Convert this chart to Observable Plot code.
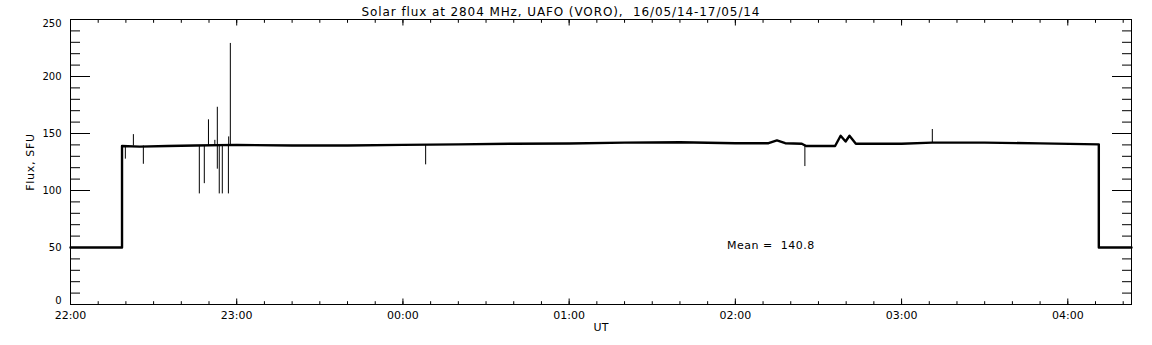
<!DOCTYPE html>
<html><head><meta charset="utf-8">
<script src="https://cdn.jsdelivr.net/npm/d3@7"></script>
<script src="https://cdn.jsdelivr.net/npm/@observablehq/plot@0.6"></script>
<style>html,body{margin:0;padding:0;background:#fff}svg{display:block}</style>
</head><body><div id="chart"></div>
<script>
// Minutes after 22:00 UT (16/05/14) and flux in SFU
const baseMinutes = [0, 18.6, 18.6, 25, 35, 45, 60, 80, 100, 120, 140, 160, 180, 200, 220, 240, 252, 255, 258, 264, 265.5, 276, 278, 279.8, 281.2, 283.5, 300, 311, 330, 350, 371.2, 371.2, 383];
const baseFlux    = [50, 50, 139, 138.5, 139, 139.5, 140, 139.5, 139.5, 140, 140.5, 141, 141.2, 142, 142.3, 141.5, 141.5, 144, 141.5, 141, 139, 139, 148, 143, 148, 141, 141, 142, 142, 141.3, 140.5, 50, 50];

const spikeMinutes = [19.8, 22.7, 26.3, 46.5, 48.3, 49.8, 52.1, 53.0, 53.0, 53.7, 54.8, 57.0, 57.1, 57.7, 128.2, 265.1, 311.1];
const spikeFlux    = [127.5, 149, 123, 97, 106, 162, 144, 173, 118.7, 97, 97, 97, 147, 229, 122.5, 121, 153.5];
const spikeBase    = [139, 139, 139, 139.5, 139.5, 139.5, 139.5, 139.5, 139.5, 139.5, 139.5, 139.5, 139.5, 139.5, 140, 140, 142];

const xMajorMinutes = [0, 60, 120, 180, 240, 300, 360];
const xTickLabels = ["22:00", "23:00", "00:00", "01:00", "02:00", "03:00", "04:00"];
const yMidTicks = [50, 100, 150, 200];
const yMidLabels = ["50", "100", "150", "200"];
const yBottomTick = [0], yBottomLabel = ["0"];
const yTopTick = [250], yTopLabel = ["250"];
const yMajor = [0, 50, 100, 150, 200, 250];
const xDomainMinutes = [0, 383];

const titleText = "Solar flux at 2804 MHz, UAFO (VORO),\u00a0 16/05/14-17/05/14";
const xLabel = "UT";
const yLabel = "Flux, SFU";
const meanText = "Mean =\u00a0 140.8";
const meanPos = {minute: 237, flux: 52};

const t0 = Date.UTC(2014, 4, 16, 22, 0, 0);
const toDate = m => new Date(t0 + m * 60000);

const base = baseMinutes.map((m, i) => ({t: toDate(m), v: baseFlux[i]}));
const spikes = spikeMinutes.map((m, i) => ({t: toDate(m), v: spikeFlux[i], b: spikeBase[i]}));
const xMajor = xMajorMinutes.map(toDate);
const xMinor = d3.range(0, 381, 10).map(toDate);
const yMinor = d3.range(0, 251, 10);

const font = "DejaVu Sans, sans-serif";
const yLabOpts = {anchor: "left", tickSize: 0, tickPadding: 9, fontSize: 10, label: null};

const chart = Plot.plot({
  width: 1152,
  height: 345,
  marginLeft: 70,
  marginRight: 21,
  marginTop: 19,
  marginBottom: 41,
  style: {fontFamily: font, fontSize: "11px", background: "#fff", color: "#000"},
  x: {type: "utc", domain: xDomainMinutes.map(toDate), axis: null},
  y: {domain: [0, 250], axis: null},
  marks: [
    // bottom axis ticks (inward)
    Plot.axisX(xMinor, {anchor: "bottom", tickSize: -2.8, fill: "none"}),
    Plot.axisX(xMajor, {anchor: "bottom", tickSize: -5.5, fill: "none"}),
    Plot.axisX(xMajor, {anchor: "bottom", tickSize: 0, tickPadding: 7, fontSize: 11,
      tickFormat: (d, i) => xTickLabels[i], label: null}),
    // top axis ticks
    Plot.axisX(xMinor, {anchor: "top", tickSize: -2.8, fill: "none"}),
    Plot.axisX(xMajor, {anchor: "top", tickSize: -5.5, fill: "none"}),
    // left axis
    Plot.axisY(yMinor, {anchor: "left", tickSize: -10, fill: "none"}),
    Plot.axisY(yMajor, {anchor: "left", tickSize: -20, fill: "none"}),
    Plot.axisY(yMidTicks, {...yLabOpts, tickFormat: (d, i) => yMidLabels[i]}),
    Plot.axisY(yBottomTick, {...yLabOpts, dy: -3.5, tickFormat: (d, i) => yBottomLabel[i]}),
    Plot.axisY(yTopTick, {...yLabOpts, dy: 4, tickFormat: (d, i) => yTopLabel[i]}),
    // right axis
    Plot.axisY(yMinor, {anchor: "right", tickSize: -10, fill: "none"}),
    Plot.axisY(yMajor, {anchor: "right", tickSize: -20, fill: "none"}),
    Plot.frame({stroke: "#000", strokeWidth: 1}),
    // data
    Plot.ruleX(spikes, {x: "t", y1: "b", y2: "v", stroke: "#000", strokeWidth: 1}),
    Plot.line(base, {x: "t", y: "v", stroke: "#000", strokeWidth: 2.4, curve: "linear"}),
    // texts
    Plot.text([meanText], {x: toDate(meanPos.minute), y: meanPos.flux, text: d => d, textAnchor: "start", fontSize: 11, fill: "#000"}),
    Plot.text([titleText], {frameAnchor: "top", dx: -40, dy: -7.5, lineAnchor: "middle", textAnchor: "middle", text: d => d, fontSize: 12, fill: "#000"}),
    Plot.text([xLabel], {frameAnchor: "bottom", dy: 23, lineAnchor: "middle", textAnchor: "middle", text: d => d, fontSize: 11, fill: "#000"}),
    Plot.text([yLabel], {frameAnchor: "left", dx: -40, rotate: -90, lineAnchor: "middle", textAnchor: "middle", text: d => d, fontSize: 11, fill: "#000"})
  ]
});
// letter spacing to approximate the wide vector font of the original
chart.querySelectorAll("text").forEach(t => {
  const s = t.textContent;
  if (s === titleText) t.setAttribute("letter-spacing", "0.9");
  else if (s === meanText) t.setAttribute("letter-spacing", "0.5");
  else if (s === yLabel) t.setAttribute("letter-spacing", "0.7");
});
document.getElementById("chart").appendChild(chart);
</script>
</body></html>
